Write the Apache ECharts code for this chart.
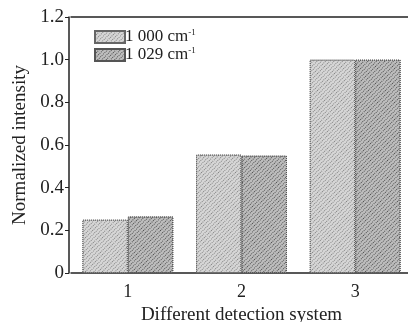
<!DOCTYPE html>
<html>
<head>
<meta charset="utf-8">
<script src="https://cdn.jsdelivr.net/npm/echarts@6/dist/echarts.min.js"></script>
<style>
html,body{margin:0;padding:0;background:#fff;}
#main{width:408px;height:322px;}
</style>
</head>
<body>
<div id="main"></div>
<script>
var systems = ['1', '2', '3'];
var band1000 = [0.25, 0.555, 1.0];
var band1029 = [0.265, 0.55, 1.0];
var yTicks = [0, 0.2, 0.4, 0.6, 0.8, 1.0, 1.2];

var chart = echarts.init(document.getElementById('main'));
var font = 'Liberation Serif';

// dotted hatch texture like the scanned figure
function texture(c) {
  return {
    symbol: 'rect',
    symbolSize: 1,
    dashArrayX: [1, 1],
    dashArrayY: [1, 2],
    rotation: -Math.PI / 4,
    color: c
  };
}

var option = {
  animation: false,
  grid: { left: 71, right: -4, top: 17, bottom: 49, outerBoundsMode: 'none', containLabel: false },
  legend: {
    orient: 'vertical',
    left: 94,
    top: 28,
    padding: 0,
    icon: 'rect',
    itemWidth: 30,
    itemHeight: 12,
    itemGap: 0,
    textStyle: {
      fontFamily: font, fontSize: 17, color: '#222', padding: [0, 0, 0, -5], lineHeight: 18,
      rich: { s: { fontFamily: font, fontSize: 9, verticalAlign: 'top', padding: [0, 0, 9, 0], color: '#222' } }
    },
    formatter: function (n) { return n.replace(' cm-1', ' cm') + '{s|-1}'; },
    data: ['1 000 cm-1', '1 029 cm-1']
  },
  xAxis: [{
    type: 'category',
    data: systems,
    name: 'Different detection system',
    nameLocation: 'middle',
    nameGap: 29,
    nameTextStyle: { fontFamily: font, fontSize: 19, color: '#222' },
    axisLine: { lineStyle: { color: '#222', width: 1.5 } },
    axisTick: { alignWithLabel: true, inside: true, length: 4, lineStyle: { color: '#222' } },
    axisLabel: { fontFamily: font, fontSize: 18, color: '#222', margin: 10 }
  }, {
    type: 'category',
    position: 'top',
    data: systems,
    axisLine: { show: true, lineStyle: { color: '#222', width: 1.5 } },
    axisTick: { show: false },
    axisLabel: { show: false }
  }],
  yAxis: {
    type: 'value',
    min: 0,
    max: 1.2,
    interval: 0.2,
    offset: 2,
    name: 'Normalized intensity',
    nameLocation: 'middle',
    nameGap: 38,
    nameTextStyle: { fontFamily: font, fontSize: 19, color: '#222' },
    axisLine: { show: true, lineStyle: { color: '#222', width: 1.5 } },
    axisTick: { show: true, length: 4, lineStyle: { color: '#222' } },
    splitLine: { show: false },
    axisLabel: {
      fontFamily: font, fontSize: 19, color: '#222', margin: 5,
      formatter: function (v) { return yTicks.indexOf(v) === 0 ? '0' : v.toFixed(1); }
    }
  },
  series: [{
    name: '1 000 cm-1',
    type: 'bar',
    data: band1000,
    barGap: '0%',
    barCategoryGap: '20%',
    itemStyle: { color: '#d6d6d6', borderColor: '#666', borderWidth: 1, borderType: 'dotted', decal: texture('rgba(60,60,60,0.55)') }
  }, {
    name: '1 029 cm-1',
    type: 'bar',
    data: band1029,
    itemStyle: { color: '#bdbdbd', borderColor: '#555', borderWidth: 1, borderType: 'dotted', decal: texture('rgba(30,30,30,0.7)') }
  }]
};
chart.setOption(option);
</script>
</body>
</html>
